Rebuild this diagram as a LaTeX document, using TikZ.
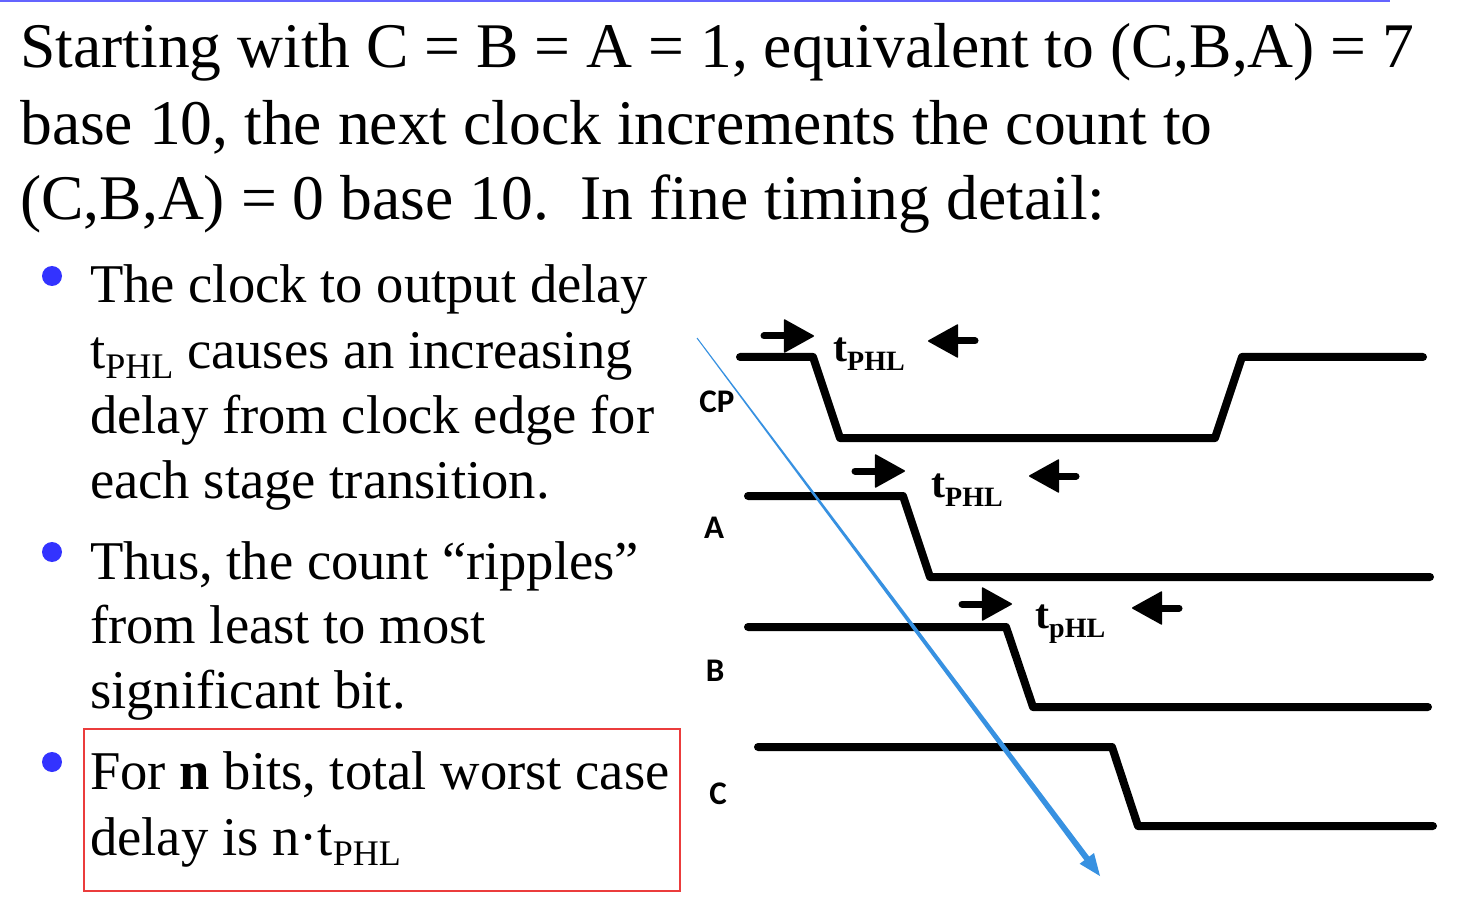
\documentclass[tikz,border=0pt]{standalone}
\usepackage{fontspec}
\setmainfont{Liberation Serif}
\newfontfamily\lblfont{Carlito}
\usetikzlibrary{arrows.meta}
\definecolor{bulblue}{RGB}{51,51,255}
\definecolor{topblue}{RGB}{100,100,255}
\definecolor{arrblue}{RGB}{55,145,225}
\definecolor{boxred}{RGB}{235,60,60}
\newcommand{\rsub}[1]{\raisebox{-10pt}{\fontsize{36}{36}\selectfont #1}}
\newcommand{\bsub}[1]{\raisebox{-9pt}{\fontsize{28}{28}\selectfont #1}}
\begin{document}
\begin{tikzpicture}[x=1pt,y=-1pt,
  title/.style={anchor=base west, inner sep=0pt, font=\fontsize{63.6}{76}\selectfont},
  body/.style={anchor=base west, inner sep=0pt, font=\fontsize{54.6}{65}\selectfont},
  sig/.style={line width=8pt, line join=round, line cap=round},
  lbl/.style={anchor=base, inner sep=0pt, font=\lblfont\bfseries\fontsize{33}{33}\selectfont},
  tarrow/.style={line width=7pt, line cap=round, -{Triangle[length=31pt,width=34pt,line width=1.5pt,line join=round]}},
  tl/.style={anchor=base west, inner sep=0pt, font=\bfseries\fontsize{42}{42}\selectfont},
  dot/.style={circle, fill=bulblue, inner sep=0pt, minimum size=20pt}
]
\useasboundingbox (0,0) rectangle (1473,909);
\fill[white] (0,0) rectangle (1473,909);
\fill[topblue] (0,0) rectangle (1390,2.5);

% title
\node[title] (h1) at (20,68) {Starting with C = B = A = 1, equivalent to (C,B,A) = 7};
\node[title] (h2) at (20,145) {base 10, the next clock increments the count to};
\node[title] (h3) at (20,220) {(C,B,A) = 0 base 10.\ \ In fine timing detail:};

% bullets
\node[dot] (d1) at (52,276) {};
\node[body] (b1a) at (90,303) {The clock to output delay};
\node[body] (b1b) at (90,368) {t\rsub{PHL} causes an increasing};
\node[body] (b1c) at (90,433) {delay from clock edge for};
\node[body] (b1d) at (90,498) {each stage transition.};

\node[dot] (d2) at (52,552) {};
\node[body] (b2a) at (90,579) {Thus, the count “ripples”};
\node[body] (b2b) at (90,643) {from least to most};
\node[body] (b2c) at (90,708) {significant bit.};

\node[dot] (d3) at (52,762) {};
\node[body] (b3a) at (90,789) {For \textbf{n} bits, total worst case};
\node[body] (b3b) at (90,855) {delay is n·t\rsub{PHL}};
\draw[boxred, line width=2.5pt] (84,729) rectangle (680,891);

% signal labels
\node[lbl] (lcp) at (717,412) {CP};
\node[lbl] (la) at (714,538) {A};
\node[lbl] (lb) at (715,681) {B};
\node[lbl] (lc) at (718,804) {C};

% waveforms
\draw[sig] (740,357) -- (813,357) -- (840,438) -- (1215,438) -- (1242,357) -- (1423,357);
\draw[sig] (748,496) -- (903,496) -- (930,577) -- (1430,577);
\draw[sig] (748,627) -- (1006,627) -- (1033,707) -- (1428,707);
\draw[sig] (758,747) -- (1112,747) -- (1138,826) -- (1433,826);

% delay arrows and labels
\draw[tarrow] (764,336) -- (814,336);
\draw[tarrow] (975,341) -- (928,341);
\node[tl] (t1) at (833,362) {t\bsub{PHL}};

\draw[tarrow] (855,471) -- (905,471);
\draw[tarrow] (1076,476) -- (1029,476);
\node[tl] (t2) at (931,497) {t\bsub{PHL}};

\draw[tarrow] (962,604) -- (1012,604);
\draw[tarrow] (1179,608) -- (1132,608);
\node[tl] (t3) at (1035,628) {t\bsub{pHL}};

% ripple arrow (tapered)
\fill[arrblue] (696.6,338.3) -- (1084.4,860.2) -- (1079.6,863.8) -- (1100,876)
  -- (1094.0,853.0) -- (1089.2,856.6) -- (697.4,337.7) -- cycle;
\end{tikzpicture}
\end{document}
